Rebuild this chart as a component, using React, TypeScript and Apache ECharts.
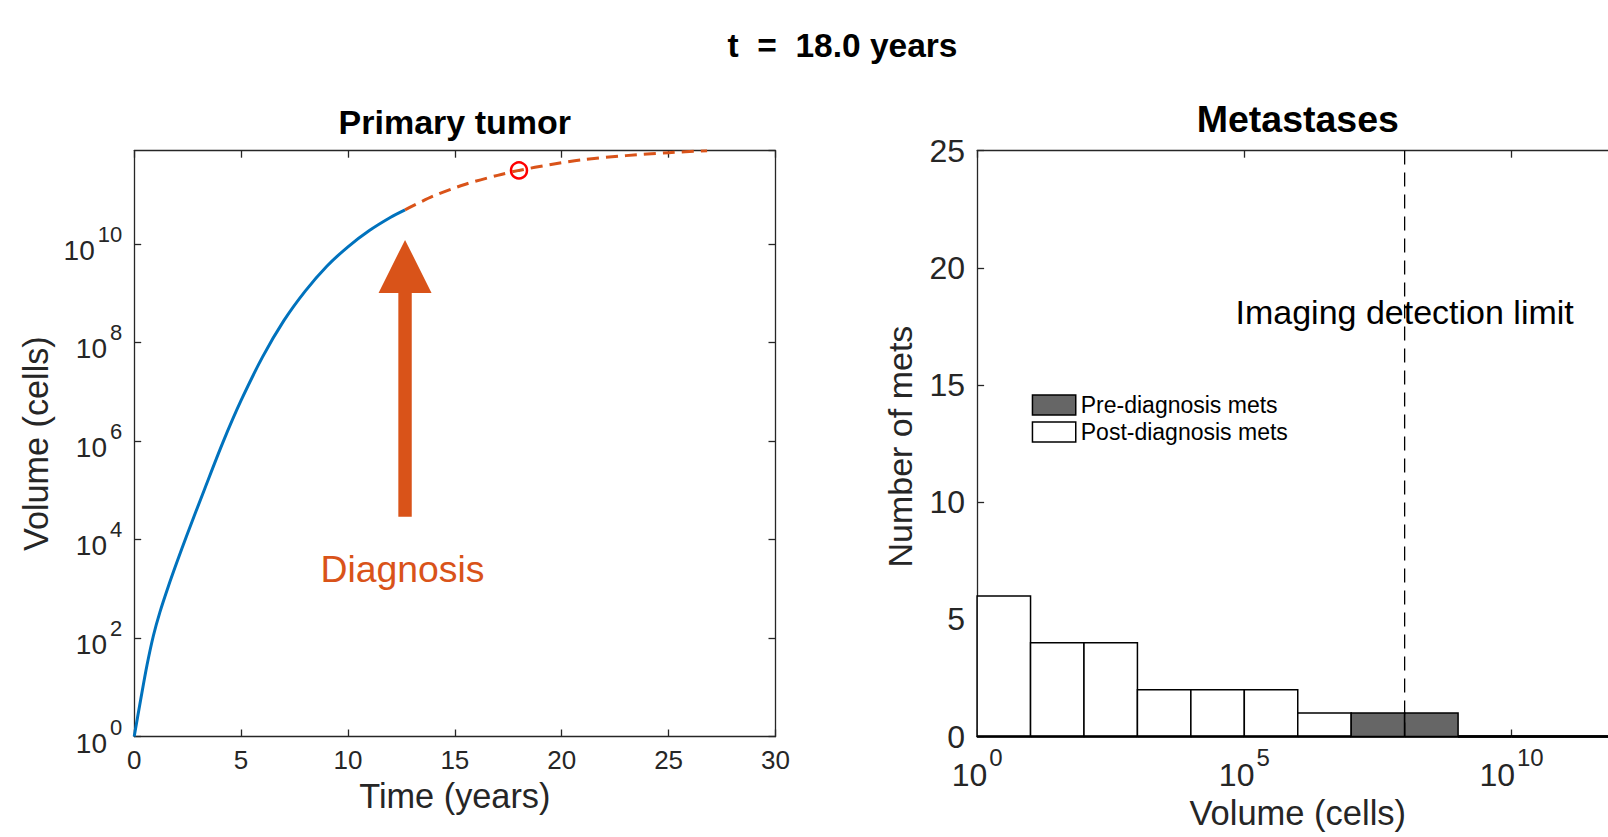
import React, { useEffect, useRef } from 'react';
import * as echarts from 'echarts';

const FONT = '"Liberation Sans", Arial, Helvetica, sans-serif';
const AXIS_COLOR = '#262626';
const ORANGE = '#D95319';
const BLUE = '#0072BD';

// ---- Primary tumor (time in years, log10 of volume in cells) ----
const preDiagTime = [0, 0.3, 0.6, 0.9, 1.2, 1.6, 2.0, 2.45, 3.3, 4.15, 5.0, 6, 7, 8, 9, 10, 11, 12, 12.67];
const preDiagLogVolume = [0, 0.74, 1.45, 2.05, 2.52, 3.05, 3.54, 4.07, 5.03, 5.97, 6.82, 7.7, 8.44, 9.04, 9.54, 9.94, 10.27, 10.54, 10.69];
const postDiagTime = [12.67, 14, 15.5, 17, 18, 19.5, 21, 23, 25, 26.8];
const postDiagLogVolume = [10.69, 10.97, 11.21, 11.39, 11.49, 11.61, 11.71, 11.79, 11.85, 11.89];
const currentTime = 18.0;
const currentLogVolume = 11.49;
const diagnosisTime = 12.67;
const arrowLogVolumes = [4.46, 10.08];
const diagnosisLabelPos = [12.55, 3.4];
const timeRange = [0, 30, 5];
const volumeLogMax = 11.89;

// ---- Metastases histogram (bins in log10 cells) ----
const binLowerLog = [0, 1, 2, 3, 4, 5, 6, 7, 8, 9, 10, 11];
const postDiagnosisCounts = [6, 4, 4, 2, 2, 2, 1, 0, 0, 0, 0, 0];
const preDiagnosisCounts = [0, 0, 0, 0, 0, 0, 0, 1, 1, 0, 0, 0];
const countRange = [0, 25, 5];
const metVolumeLogMax = 12;
const detectionLimitLog = 8;
const detectionLabelCount = 18.1;

const titleText = 't  =  18.0 years';

const toCurve = (ts: number[], es: number[]) => ts.map((t, i) => [t, Math.pow(10, es[i])]);
const toBins = (counts: number[]) =>
  binLowerLog.map((lo, i) => [Math.pow(10, lo), Math.pow(10, lo + 1), counts[i]]);

const supLabel = (v: number) => {
  const e = Math.log10(v);
  const r = Math.round(e);
  if (Math.abs(e - r) > 1e-6) return '';
  return `{b|10}{s|${r}}`;
};

const histRender = (fill: string) => (params: any, api: any) => {
  const lo = api.value(0);
  const hi = api.value(1);
  const c = api.value(2);
  const p0 = api.coord([lo, 0]);
  const p1 = api.coord([hi, c]);
  if (c <= 0) {
    return {
      type: 'line',
      shape: { x1: p0[0], y1: p0[1], x2: p1[0], y2: p0[1] },
      style: { stroke: '#000', lineWidth: 2.5 },
    };
  }
  return {
    type: 'rect',
    shape: { x: p0[0], y: p1[1], width: p1[0] - p0[0], height: p0[1] - p1[1] },
    style: { fill, stroke: '#000', lineWidth: 1.5 },
  };
};

const arrowRender = (params: any, api: any) => {
  const base = api.coord([api.value(0), api.value(1)]);
  const tip = api.coord([api.value(0), api.value(2)]);
  const x = tip[0];
  const headH = 53;
  const headHalf = 26.5;
  const shaftHalf = 6.7;
  const hy = tip[1] + headH;
  return {
    type: 'polygon',
    shape: {
      points: [
        [x - shaftHalf, base[1]],
        [x - shaftHalf, hy],
        [x - headHalf, hy],
        [x, tip[1]],
        [x + headHalf, hy],
        [x + shaftHalf, hy],
        [x + shaftHalf, base[1]],
      ],
    },
    style: { fill: ORANGE },
  };
};

const axisLine = { show: true, onZero: false, lineStyle: { color: AXIS_COLOR, width: 1.3 } };
const tickIn = { show: true, inside: true, length: 7, lineStyle: { color: AXIS_COLOR, width: 1.3 } };

const leftGrid = { left: 134.2, top: 150.7, width: 641.3, height: 585.8, outerBoundsMode: 'none', containLabel: false };
const rightGrid = { left: 977.1, top: 150.7, width: 641.3, height: 585.8, outerBoundsMode: 'none', containLabel: false };

const option: any = {
  animation: false,
  backgroundColor: '#ffffff',
  textStyle: { fontFamily: FONT },
  grid: [leftGrid, rightGrid],
  graphic: [
    {
      type: 'text', x: 842.5, y: 45,
      style: { text: titleText, fontSize: 33.5, fontWeight: 'bold', fill: '#000', align: 'center', verticalAlign: 'middle', fontFamily: FONT },
    },
    {
      type: 'text', x: 454.8, y: 122,
      style: { text: 'Primary tumor', fontSize: 34, fontWeight: 'bold', fill: '#000', align: 'center', verticalAlign: 'middle', fontFamily: FONT },
    },
    {
      type: 'text', x: 1297.8, y: 118.5,
      style: { text: 'Metastases', fontSize: 37.5, fontWeight: 'bold', fill: '#000', align: 'center', verticalAlign: 'middle', fontFamily: FONT },
    },
  ],
  legend: {
    orient: 'vertical',
    left: 1031.7,
    top: 393.5,
    padding: 0,
    itemWidth: 43.3,
    itemHeight: 20,
    itemGap: 4,
    selectedMode: false,
    textStyle: { fontSize: 23, color: '#000', fontFamily: FONT, lineHeight: 20 },
    data: [
      { name: 'Pre-diagnosis mets', icon: 'rect', itemStyle: { color: '#666666', borderColor: '#000', borderWidth: 1.5 } },
      { name: 'Post-diagnosis mets', icon: 'rect', itemStyle: { color: '#ffffff', borderColor: '#000', borderWidth: 1.5 } },
    ],
  },
  xAxis: [
    {
      type: 'value', gridIndex: 0, position: 'bottom',
      min: timeRange[0], max: timeRange[1], interval: timeRange[2],
      axisLine, axisTick: tickIn, splitLine: { show: false },
      axisLabel: { fontSize: 26, color: AXIS_COLOR, margin: 10, fontFamily: FONT },
      name: 'Time (years)', nameLocation: 'middle', nameGap: 42.5, nameMoveOverlap: false,
      nameTextStyle: { fontSize: 34.3, color: AXIS_COLOR, fontFamily: FONT },
    },
    {
      type: 'value', gridIndex: 0, position: 'top',
      min: timeRange[0], max: timeRange[1], interval: timeRange[2],
      axisLine, axisTick: tickIn, splitLine: { show: false }, axisLabel: { show: false },
    },
    {
      type: 'log', logBase: 1e5, gridIndex: 1, position: 'bottom',
      min: 1, max: Math.pow(10, metVolumeLogMax), splitNumber: 5,
      axisLine, axisTick: tickIn, splitLine: { show: false }, minorTick: { show: false },
      axisLabel: {
        formatter: supLabel, margin: 8.5, showMaxLabel: false,
        rich: {
          b: { fontSize: 32, lineHeight: 45.5, verticalAlign: 'bottom', color: AXIS_COLOR, fontFamily: FONT },
          s: { fontSize: 24, lineHeight: 24, verticalAlign: 'top', color: AXIS_COLOR, fontFamily: FONT, padding: [0, 0, 0, 2] },
        },
      },
      name: 'Volume (cells)', nameLocation: 'middle', nameGap: 59, nameMoveOverlap: false,
      nameTextStyle: { fontSize: 34.5, color: AXIS_COLOR, fontFamily: FONT },
    },
    {
      type: 'log', logBase: 1e5, gridIndex: 1, position: 'top',
      min: 1, max: Math.pow(10, metVolumeLogMax), splitNumber: 5,
      axisLine, axisTick: tickIn, splitLine: { show: false }, axisLabel: { show: false },
    },
  ],
  yAxis: [
    {
      type: 'log', logBase: 100, gridIndex: 0, position: 'left',
      min: 1, max: Math.pow(10, volumeLogMax), splitNumber: 5,
      axisLine, axisTick: tickIn, splitLine: { show: false }, minorTick: { show: false },
      axisLabel: {
        formatter: supLabel, margin: 12, showMaxLabel: false,
        rich: {
          b: { fontSize: 28, lineHeight: 41, verticalAlign: 'bottom', color: AXIS_COLOR, fontFamily: FONT },
          s: { fontSize: 22, lineHeight: 22, verticalAlign: 'top', color: AXIS_COLOR, fontFamily: FONT, padding: [0, 0, 0, 3] },
        },
      },
      name: 'Volume (cells)', nameLocation: 'middle', nameGap: 81, nameMoveOverlap: false,
      nameTextStyle: { fontSize: 34.2, color: AXIS_COLOR, fontFamily: FONT },
    },
    {
      type: 'log', logBase: 100, gridIndex: 0, position: 'right',
      min: 1, max: Math.pow(10, volumeLogMax), splitNumber: 5,
      axisLine, axisTick: tickIn, splitLine: { show: false }, axisLabel: { show: false },
    },
    {
      type: 'value', gridIndex: 1, position: 'left',
      min: countRange[0], max: countRange[1], interval: countRange[2],
      axisLine, axisTick: tickIn, splitLine: { show: false },
      axisLabel: { fontSize: 32, color: AXIS_COLOR, margin: 12, fontFamily: FONT },
      name: 'Number of mets', nameLocation: 'middle', nameGap: 60, nameMoveOverlap: false,
      nameTextStyle: { fontSize: 34, color: AXIS_COLOR, fontFamily: FONT, padding: [0, 6, 0, 0] },
    },
  ],
  series: [
    {
      type: 'line', name: 'pre', xAxisIndex: 0, yAxisIndex: 0,
      data: toCurve(preDiagTime, preDiagLogVolume),
      smooth: 0.3, symbol: 'none', lineStyle: { color: BLUE, width: 3 },
    },
    {
      type: 'line', name: 'post', xAxisIndex: 0, yAxisIndex: 0,
      data: toCurve(postDiagTime, postDiagLogVolume),
      smooth: 0.3, symbol: 'none', lineStyle: { color: ORANGE, width: 3, type: [12, 7] },
    },
    {
      type: 'scatter', name: 'now', xAxisIndex: 0, yAxisIndex: 0,
      data: [[currentTime, Math.pow(10, currentLogVolume)]],
      symbol: 'circle', symbolSize: 16, z: 5,
      itemStyle: { color: 'rgba(0,0,0,0)', borderColor: '#FF0000', borderWidth: 2.5, opacity: 1 },
    },
    {
      type: 'custom', name: 'arrow', xAxisIndex: 0, yAxisIndex: 0,
      data: [[diagnosisTime, Math.pow(10, arrowLogVolumes[0]), Math.pow(10, arrowLogVolumes[1])]],
      encode: { x: 0, y: [1, 2] },
      renderItem: arrowRender,
    },
    {
      type: 'scatter', name: 'diagLabel', xAxisIndex: 0, yAxisIndex: 0,
      data: [[diagnosisLabelPos[0], Math.pow(10, diagnosisLabelPos[1])]],
      symbolSize: 0, itemStyle: { opacity: 1 },
      label: { show: true, position: 'inside', formatter: 'Diagnosis', fontSize: 37.4, color: ORANGE, fontFamily: FONT },
    },
    {
      type: 'custom', name: 'Post-diagnosis mets', xAxisIndex: 2, yAxisIndex: 2,
      data: toBins(postDiagnosisCounts),
      encode: { x: [0, 1], y: 2 },
      itemStyle: { color: '#ffffff', borderColor: '#000' },
      renderItem: histRender('#ffffff'),
    },
    {
      type: 'custom', name: 'Pre-diagnosis mets', xAxisIndex: 2, yAxisIndex: 2,
      data: toBins(preDiagnosisCounts),
      encode: { x: [0, 1], y: 2 },
      itemStyle: { color: '#666666', borderColor: '#000' },
      renderItem: histRender('#666666'),
    },
    {
      type: 'line', name: 'limit', xAxisIndex: 2, yAxisIndex: 2,
      data: [[Math.pow(10, detectionLimitLog), countRange[0]], [Math.pow(10, detectionLimitLog), countRange[1]]],
      symbol: 'none', z: 6,
      lineStyle: { color: '#000', width: 1.3, type: [14, 8] },
    },
    {
      type: 'scatter', name: 'limitLabel', xAxisIndex: 2, yAxisIndex: 2,
      data: [[Math.pow(10, detectionLimitLog), detectionLabelCount]],
      symbolSize: 0, z: 7, itemStyle: { opacity: 1 },
      label: { show: true, position: 'inside', formatter: 'Imaging detection limit', fontSize: 34, color: '#000', fontFamily: FONT },
    },
  ],
};

export default function App() {
  const ref = useRef<HTMLDivElement>(null);
  useEffect(() => {
    const chart = echarts.init(ref.current as HTMLDivElement, null, { renderer: 'svg' });
    chart.setOption(option);
    return () => chart.dispose();
  }, []);
  return (
    <div
      ref={ref}
      style={{ position: 'fixed', left: 0, top: 0, width: 1608, height: 837, background: '#fff' }}
    />
  );
}
